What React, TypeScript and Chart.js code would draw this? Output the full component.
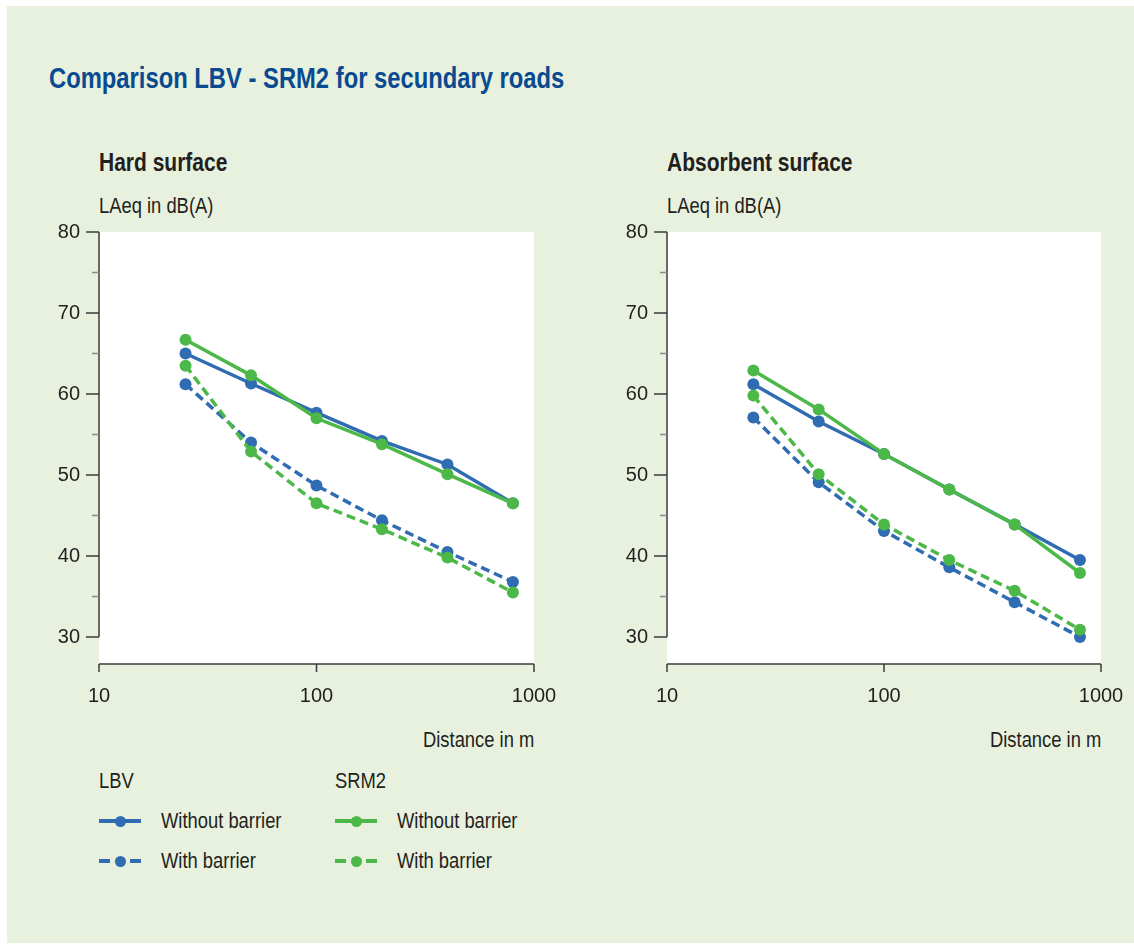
import React, { useEffect, useRef } from "react";
import { Chart, registerables } from "chart.js";

Chart.register(...registerables);

// ---- Data ----
const distances = [25, 50, 100, 200, 400, 800];

const hardLbvWithout = [65.0, 61.3, 57.7, 54.2, 51.3, 46.5];
const hardLbvWith = [61.2, 54.0, 48.7, 44.4, 40.5, 36.8];
const hardSrmWithout = [66.7, 62.3, 57.0, 53.8, 50.1, 46.5];
const hardSrmWith = [63.5, 52.9, 46.5, 43.3, 39.8, 35.5];

const absLbvWithout = [61.2, 56.6, 52.6, 48.2, 43.9, 39.5];
const absLbvWith = [57.1, 49.1, 43.1, 38.6, 34.3, 30.0];
const absSrmWithout = [62.9, 58.1, 52.6, 48.2, 43.9, 37.9];
const absSrmWith = [59.8, 50.1, 43.9, 39.5, 35.7, 30.9];

const xTickValues = [10, 100, 1000];
const yTickValues = [30, 40, 50, 60, 70, 80];
const yMinorTickValues = [35, 45, 55, 65, 75];

const seriesNames = ["LBV Without barrier", "LBV With barrier", "SRM2 Without barrier", "SRM2 With barrier"];

// ---- Styles ----
const BLUE = "#2f6cb2";
const GREEN = "#4cb848";
const TEXT = "#231f20";
const AXIS = "#3a3a3a";
const BG = "#e8f1de";
const TITLE = "#0a4a90";
const FONT = '"Liberation Sans", Arial, sans-serif';
const DASH = [9, 5];

const decoPlugin = {
  id: "deco",
  beforeDraw(chart: any) {
    const { ctx, chartArea } = chart;
    ctx.save();
    ctx.fillStyle = "#ffffff";
    ctx.fillRect(chartArea.left, chartArea.top, chartArea.right - chartArea.left, chartArea.bottom - chartArea.top);
    ctx.restore();
  },
  beforeDatasetsDraw(chart: any) {
    const { ctx, chartArea, scales } = chart;
    const xs = scales.x;
    const ys = scales.y;
    ctx.save();
    ctx.strokeStyle = AXIS;
    ctx.lineWidth = 1.5;
    const yTop = ys.getPixelForValue(yTickValues[yTickValues.length - 1]);
    const yBot = ys.getPixelForValue(yTickValues[0]);
    const xl = chartArea.left;
    ctx.beginPath();
    ctx.moveTo(xl, yTop);
    ctx.lineTo(xl, yBot);
    ctx.stroke();
    yTickValues.forEach((v) => {
      const p = ys.getPixelForValue(v);
      ctx.beginPath();
      ctx.moveTo(xl - 13, p);
      ctx.lineTo(xl, p);
      ctx.stroke();
    });
    ctx.strokeStyle = "#8a8a8a";
    yMinorTickValues.forEach((v) => {
      const p = ys.getPixelForValue(v);
      ctx.beginPath();
      ctx.moveTo(xl - 7, p);
      ctx.lineTo(xl, p);
      ctx.stroke();
    });
    ctx.strokeStyle = AXIS;
    const yb = chartArea.bottom;
    ctx.beginPath();
    ctx.moveTo(chartArea.left, yb);
    ctx.lineTo(chartArea.right, yb);
    ctx.stroke();
    xTickValues.forEach((v) => {
      const p = xs.getPixelForValue(v);
      ctx.beginPath();
      ctx.moveTo(p, yb);
      ctx.lineTo(p, yb + 8);
      ctx.stroke();
    });
    ctx.restore();
  },
};

function makeDataset(label: string, values: number[], color: string, dashed: boolean, order: number) {
  return {
    label,
    data: distances.map((d, i) => ({ x: d, y: values[i] })),
    borderColor: color,
    backgroundColor: color,
    borderWidth: 3.5,
    borderDash: dashed ? DASH : [],
    pointRadius: 6,
    pointBorderWidth: 0,
    pointBackgroundColor: color,
    tension: 0,
    fill: false,
    order,
  };
}

const zeroPad = (s: any) => {
  s.paddingTop = 0;
  s.paddingBottom = 0;
  s.paddingLeft = 0;
  s.paddingRight = 0;
};

type PanelProps = {
  left: number;
  top: number;
  width: number;
  height: number;
  rightPad: number;
  lbvWithout: number[];
  lbvWith: number[];
  srmWithout: number[];
  srmWith: number[];
};

function ChartPanel(props: PanelProps) {
  const ref = useRef<HTMLCanvasElement | null>(null);
  useEffect(() => {
    if (!ref.current) return;
    const tickFont = { family: FONT, size: 20 };
    const chart = new Chart(ref.current, {
      type: "line",
      data: {
        datasets: [
          makeDataset(seriesNames[0], props.lbvWithout, BLUE, false, 3),
          makeDataset(seriesNames[1], props.lbvWith, BLUE, true, 2),
          makeDataset(seriesNames[2], props.srmWithout, GREEN, false, 1),
          makeDataset(seriesNames[3], props.srmWith, GREEN, true, 0),
        ],
      },
      options: {
        responsive: false,
        animation: false,
        devicePixelRatio: 1,
        layout: { padding: { top: 12, right: props.rightPad, bottom: 0, left: 0 } },
        plugins: { legend: { display: false }, tooltip: { enabled: false } },
        scales: {
          x: {
            type: "logarithmic",
            min: 10,
            max: 1000,
            afterBuildTicks: (s: any) => {
              s.ticks = xTickValues.map((v) => ({ value: v }));
            },
            afterFit: (s: any) => {
              s.height = 56;
              zeroPad(s);
            },
            ticks: {
              callback: (v: any) => String(v),
              font: tickFont,
              color: TEXT,
              padding: 20,
              maxRotation: 0,
              autoSkip: false,
            },
            grid: { display: false, drawTicks: false },
            border: { display: false },
          },
          y: {
            type: "linear",
            min: 80 - 432 / 8.1,
            max: 80,
            afterBuildTicks: (s: any) => {
              s.ticks = yTickValues.map((v) => ({ value: v }));
            },
            afterFit: (s: any) => {
              s.width = 59;
              zeroPad(s);
            },
            ticks: {
              callback: (v: any) => String(v),
              font: tickFont,
              color: TEXT,
              padding: 19,
              autoSkip: false,
            },
            grid: { display: false, drawTicks: false },
            border: { display: false },
          },
        },
      } as any,
      plugins: [decoPlugin],
    });
    return () => chart.destroy();
  }, []);
  return (
    <canvas
      ref={ref}
      width={props.width}
      height={props.height}
      style={{ position: "absolute", left: props.left, top: props.top, width: props.width, height: props.height }}
    />
  );
}

const txt = (
  left: number | null,
  top: number,
  size: number,
  bold: boolean,
  text: string,
  color = TEXT,
  right: number | null = null,
  narrow = 0.835
) => (
  <div
    style={{
      position: "absolute",
      left: left === null ? "auto" : left,
      right: right === null ? "auto" : right,
      top,
      fontFamily: FONT,
      fontSize: size,
      lineHeight: `${size}px`,
      fontWeight: bold ? 700 : 400,
      color,
      whiteSpace: "nowrap",
      transform: `scaleX(${narrow})`,
      transformOrigin: right === null ? "left center" : "right center",
    }}
  >
    {text}
  </div>
);

function LegendSample({ left, top, color, dashed }: { left: number; top: number; color: string; dashed: boolean }) {
  const h = 4;
  const segs = dashed
    ? [
        { l: 0, w: 11 },
        { l: 31, w: 11 },
      ]
    : [{ l: 0, w: 42 }];
  return (
    <div style={{ position: "absolute", left, top: top - 6, width: 42, height: 12 }}>
      {segs.map((s, i) => (
        <div key={i} style={{ position: "absolute", left: s.l, top: 6 - h / 2, width: s.w, height: h, background: color }} />
      ))}
      <div style={{ position: "absolute", left: 21 - 5.5, top: 0.5, width: 11, height: 11, borderRadius: "50%", background: color }} />
    </div>
  );
}

export default function App() {
  return (
    <div style={{ position: "absolute", left: 0, top: 0, width: 1134, height: 945, background: "#ffffff", overflow: "hidden" }}>
      <div style={{ position: "absolute", left: 7, top: 6, width: 1127, height: 937, background: BG }} />
      {txt(49, 63.5, 29, true, "Comparison LBV - SRM2 for secundary roads", TITLE, null, 0.82)}

      {txt(99, 150, 25, true, "Hard surface", TEXT, null, 0.84)}
      {txt(99, 195, 22, false, "LAeq in dB(A)")}
      {txt(667, 150, 25, true, "Absorbent surface", TEXT, null, 0.84)}
      {txt(667, 195, 22, false, "LAeq in dB(A)")}

      <ChartPanel
        left={40}
        top={220}
        width={520}
        height={500}
        rightPad={26}
        lbvWithout={hardLbvWithout}
        lbvWith={hardLbvWith}
        srmWithout={hardSrmWithout}
        srmWith={hardSrmWith}
      />
      <ChartPanel
        left={608}
        top={220}
        width={520}
        height={500}
        rightPad={27}
        lbvWithout={absLbvWithout}
        lbvWith={absLbvWith}
        srmWithout={absSrmWithout}
        srmWith={absSrmWith}
      />

      {txt(null, 729, 22, false, "Distance in m", TEXT, 1134 - 534)}
      {txt(null, 729, 22, false, "Distance in m", TEXT, 1134 - 1101)}

      {txt(99, 770, 22, false, "LBV")}
      {txt(335, 770, 22, false, "SRM2")}

      <LegendSample left={99} top={821} color={BLUE} dashed={false} />
      <LegendSample left={99} top={861} color={BLUE} dashed={true} />
      <LegendSample left={335} top={821} color={GREEN} dashed={false} />
      <LegendSample left={335} top={861} color={GREEN} dashed={true} />
      {txt(161, 810, 22, false, "Without barrier")}
      {txt(161, 850, 22, false, "With barrier")}
      {txt(397, 810, 22, false, "Without barrier")}
      {txt(397, 850, 22, false, "With barrier")}
    </div>
  );
}
